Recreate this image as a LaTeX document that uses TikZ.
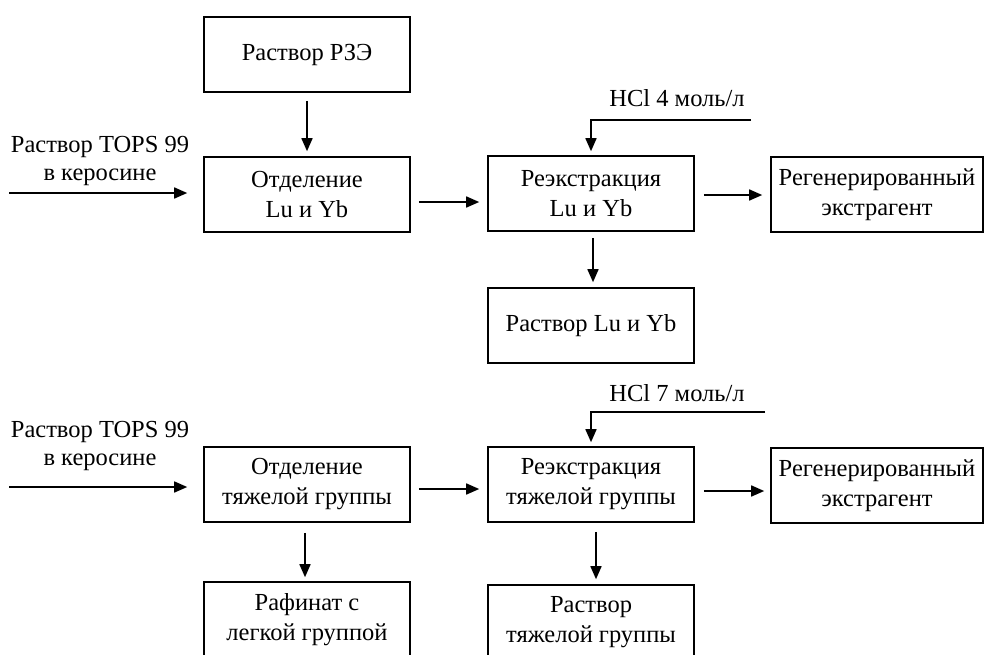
\documentclass[tikz,border=0pt]{standalone}
\usepackage{fontspec}
\setmainfont{Liberation Serif}
\usetikzlibrary{arrows.meta}
\begin{document}
\begin{tikzpicture}[x=1pt,y=-1pt,
  box/.style={draw,line width=1.6pt,minimum width=206pt,minimum height=75pt,inner sep=0pt,align=center,font=\fontsize{24.5}{30}\selectfont},
  lbl/.style={inner sep=0pt,align=center,font=\fontsize{24.5}{28}\selectfont},
  arr/.style={line width=1.6pt,-{Triangle[length=13pt,width=11pt]}}]
\useasboundingbox (0,0) rectangle (992,654);
\clip (0,0) rectangle (992,654);
% top row
\node[box] (rze) at (307,54.5) {Раствор РЗЭ};
\node[box] (sep1) at (307,194.5) {Отделение\\Lu и Yb};
\node[box] (reex1) at (591,193.5) {Реэкстракция\\Lu и Yb};
\node[box,minimum width=212pt] (regen1) at (877,194.5) {Регенерированный\\экстрагент};
\node[box] (sol1) at (591,325.5) {Раствор Lu и Yb};
% bottom row
\node[box] (sep2) at (307,484.5) {Отделение\\тяжелой группы};
\node[box] (reex2) at (591,484.5) {Реэкстракция\\тяжелой группы};
\node[box,minimum width=212pt] (regen2) at (877,485.5) {Регенерированный\\экстрагент};
\node[box] (raff) at (307,619.5) {Рафинат с\\легкой группой};
\node[box] (sol2) at (591,622.5) {Раствор\\тяжелой группы};
% feed labels
\node[lbl] (feed1) at (100,161) {Раствор TOPS 99\\в керосине};
\node[lbl] (feed2) at (100,446) {Раствор TOPS 99\\в керосине};
\node[lbl] (hcl1) at (677,98) {HCl 4 моль/л};
\node[lbl] (hcl2) at (677,393) {HCl 7 моль/л};
\coordinate (f1) at (9,193);
\coordinate (f2) at (9,487);
\coordinate (h1) at (751,120);
\coordinate (h2) at (765,412);
% arrows
\draw[arr,shorten <=8pt,shorten >=5pt] (rze.south) -- (sep1.north);
\draw[arr,shorten >=16pt] (f1) -- (f1 -| sep1.west);
\draw[arr,shorten <=8pt,shorten >=8pt] ([yshift=-7.5pt]sep1.east) -- ([yshift=-7.5pt]sep1.east -| reex1.west);
\draw[arr,shorten >=4pt] (h1) -- (h1 -| reex1.north) -- (reex1.north);
\draw[arr,shorten <=9pt,shorten >=8pt] ([yshift=-1.5pt]reex1.east) -- ([yshift=-1.5pt]reex1.east -| regen1.west);
\draw[arr,shorten <=6pt,shorten >=5pt] ([xshift=2pt]reex1.south) -- ([xshift=2pt]sol1.north);
\draw[arr,shorten >=16pt] (f2) -- (f2 -| sep2.west);
\draw[arr,shorten <=8pt,shorten >=8pt] ([yshift=-4.5pt]sep2.east) -- ([yshift=-4.5pt]sep2.east -| reex2.west);
\draw[arr,shorten >=4pt] (h2) -- (h2 -| reex2.north) -- (reex2.north);
\draw[arr,shorten <=9pt,shorten >=6pt] ([yshift=-6.5pt]reex2.east) -- ([yshift=-6.5pt]reex2.east -| regen2.west);
\draw[arr,shorten <=9pt,shorten >=5pt] ([xshift=5pt]reex2.south) -- ([xshift=5pt]sol2.north);
\draw[arr,shorten <=10pt,shorten >=4pt] ([xshift=-2pt]sep2.south) -- ([xshift=-2pt]raff.north);
\end{tikzpicture}
\end{document}
